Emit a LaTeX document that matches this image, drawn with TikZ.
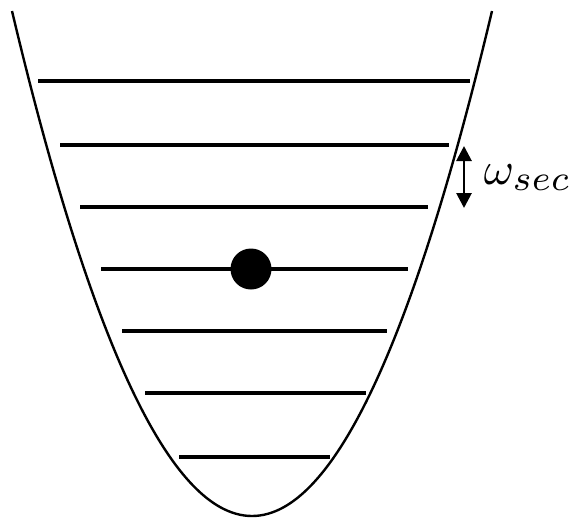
\documentclass[tikz,border=0pt]{standalone}
\usetikzlibrary{arrows.meta}
\begin{document}
\begin{tikzpicture}[x=1pt,y=-1pt,
  level/.style={line width=3.6pt},
  well/.style={line width=2.4pt},
  gap/.style={line width=2.8pt,{Triangle[width=15pt,length=15pt]}-{Triangle[width=15pt,length=15pt]}},
  ball/.style={circle,fill=black,inner sep=0pt,minimum size=41pt}]
\useasboundingbox (0,0) rectangle (575,519);
\draw[well] plot[domain=-24:24,samples=121,smooth] ({252+10*\x},{516-0.8767*\x*\x});
\coordinate (l1a) at (38,81);  \coordinate (l1b) at (470,81);
\coordinate (l2a) at (60,145); \coordinate (l2b) at (449,145);
\coordinate (l3a) at (80,207); \coordinate (l3b) at (428,207);
\coordinate (l4a) at (101,269); \coordinate (l4b) at (408,269);
\coordinate (l5a) at (122,331); \coordinate (l5b) at (387,331);
\coordinate (l6a) at (145,393); \coordinate (l6b) at (366,393);
\coordinate (l7a) at (179,457); \coordinate (l7b) at (330,457);
\foreach \i in {1,...,7} \draw[level] (l\i a) -- (l\i b);
\node[ball] (b) at (251,269) {};
\coordinate (ga) at (464,146);
\coordinate (gb) at (464,208);
\draw[gap] (ga) -- (gb);
\node[anchor=base west,inner sep=0pt,scale=4.6] (lab) at (483,184)
  {$\omega_{\mbox{\scalebox{1.1}{$\scriptstyle sec$}}}$};
\end{tikzpicture}
\end{document}
